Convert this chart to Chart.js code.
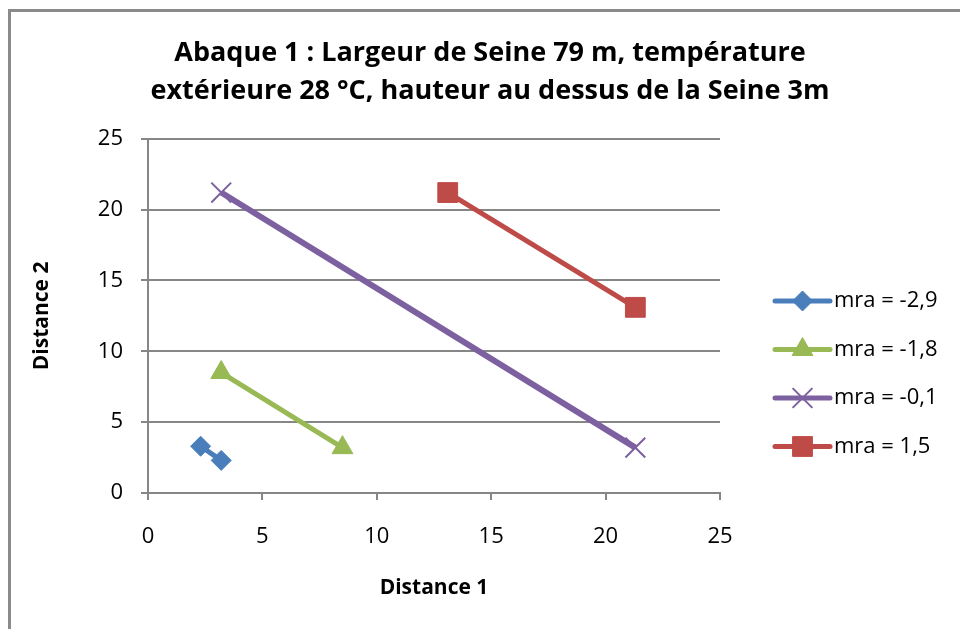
<!DOCTYPE html>
<html>
<head>
<meta charset="utf-8">
<script src="https://cdn.jsdelivr.net/npm/chart.js@4"></script>
<style>
  body { margin: 0; background: #fff; }
  #wrap { position: relative; width: 960px; height: 629px; overflow: hidden; }
  #frame { position: absolute; left: 8px; top: 9px; width: 1000px; height: 700px;
           border: 3px solid #8a8a8a; pointer-events: none; }
</style>
</head>
<body>
<div id="wrap">
  <canvas id="abaque" width="960" height="629"></canvas>
  <div id="frame"></div>
</div>
<script>
const seriesNames = ['mra = -2,9', 'mra = -1,8', 'mra = -0,1', 'mra = 1,5'];
const distance1 = [
    [2.3, 3.2],
    [3.2, 8.5],
    [3.2, 21.3],
    [13.1, 21.3]
];
const distance2 = [
    [3.3, 2.3],
    [8.5, 3.2],
    [21.2, 3.2],
    [21.2, 13.1]
];
const tickValues = [0, 5, 10, 15, 20, 25];

const couleurs = ['#4a7ebb', '#98b954', '#7d60a0', '#be4b48'];
const marqueurs = ['rectRot', 'triangle', 'crossRot', 'rect'];
const rayons = [10, 12, 14, 14];

const police = "'Open Sans', Lato, sans-serif";

const datasets = seriesNames.map(function(nom, i) {
    return {
        label: nom,
        data: distance1[i].map(function(x, j) { return { x: x, y: distance2[i][j] }; }),
        borderColor: couleurs[i],
        backgroundColor: couleurs[i],
        borderWidth: i === 2 ? 6 : 5,
        pointStyle: marqueurs[i],
        pointRadius: rayons[i],
        pointBorderWidth: marqueurs[i] === 'crossRot' ? 2 : 1,
        pointBackgroundColor: couleurs[i],
        pointBorderColor: couleurs[i],
        showLine: true,
        tension: 0
    };
});

// Légende façon Excel : trait + marqueur
const legendeExcel = {
    id: 'legendeExcel',
    afterDraw: function(chart) {
        const ctx = chart.ctx;
        const x0 = 775, x1 = 830, y0 = 301, pas = 48.5;
        ctx.save();
        chart.data.datasets.forEach(function(ds, i) {
            const y = y0 + i * pas;
            ctx.strokeStyle = ds.borderColor;
            ctx.lineWidth = 5;
            ctx.lineCap = 'round';
            ctx.beginPath();
            ctx.moveTo(x0, y);
            ctx.lineTo(x1, y);
            ctx.stroke();
            ctx.fillStyle = ds.backgroundColor;
            ctx.lineWidth = ds.pointBorderWidth;
            ctx.lineCap = 'butt';
            Chart.helpers.drawPoint(ctx, {
                pointStyle: ds.pointStyle,
                radius: ds.pointRadius,
                rotation: 0,
                borderWidth: ds.pointBorderWidth
            }, (x0 + x1) / 2, y);
            ctx.fillStyle = '#000';
            ctx.font = '22px ' + police;
            ctx.textBaseline = 'middle';
            ctx.textAlign = 'left';
            ctx.fillText(ds.label, x1 + 4, y);
        });
        ctx.restore();
    }
};

const grille = '#868686';

new Chart(document.getElementById('abaque'), {
    type: 'scatter',
    data: { datasets: datasets },
    options: {
        responsive: false,
        animation: false,
        layout: { padding: { left: 20, top: 0, right: 0, bottom: 0 } },
        plugins: {
            legend: { display: false },
            tooltip: { enabled: false },
            title: {
                display: true,
                text: ['Abaque 1 : Largeur de Seine 79 m, température',
                       'extérieure 28 °C, hauteur au dessus de la Seine 3m'],
                color: '#000',
                font: { family: police, size: 27, weight: 'bold', lineHeight: 1.42 },
                padding: { top: 34, bottom: 28 }
            }
        },
        scales: {
            x: {
                type: 'linear',
                min: 0, max: 25,
                afterBuildTicks: function(s) { s.ticks = tickValues.map(function(v) { return { value: v }; }); },
                afterFit: function(s) { s.height = 136; },
                border: { color: grille, width: 2 },
                grid: { color: 'rgba(0,0,0,0)', tickColor: grille, tickLength: 7, lineWidth: 2 },
                ticks: { color: '#000', padding: 24, font: { family: police, size: 22 } },
                title: {
                    display: true, text: 'Distance 1', color: '#000',
                    font: { family: police, size: 21, weight: 'bold' },
                    padding: { top: 0, bottom: 28 }
                }
            },
            y: {
                type: 'linear',
                min: 0, max: 25,
                afterBuildTicks: function(s) { s.ticks = tickValues.map(function(v) { return { value: v }; }); },
                afterFit: function(s) { s.width = 128; },
                border: { color: grille, width: 2 },
                grid: { color: grille, tickColor: grille, tickLength: 7, lineWidth: 2 },
                ticks: { color: '#000', padding: 18, font: { family: police, size: 22 } },
                title: {
                    display: true, text: 'Distance 2', color: '#000',
                    font: { family: police, size: 21, weight: 'bold' },
                    padding: { top: 9, bottom: 0 }
                }
            },
            droite: {
                type: 'linear',
                position: 'right',
                display: true,
                min: 0, max: 25,
                afterFit: function(s) { s.width = 240; },
                border: { display: false },
                grid: { display: false },
                ticks: { display: false }
            }
        }
    },
    plugins: [legendeExcel]
});
</script>
</body>
</html>
